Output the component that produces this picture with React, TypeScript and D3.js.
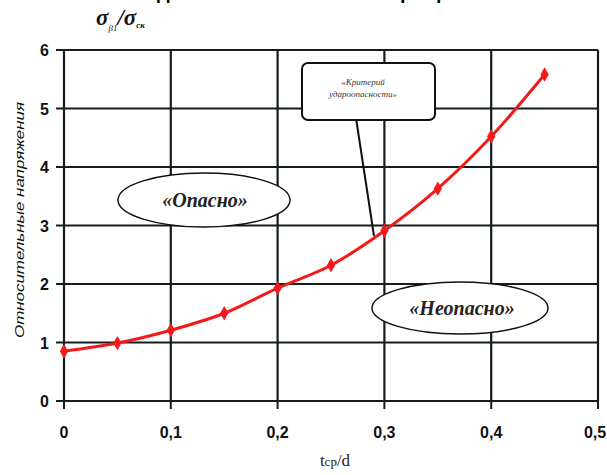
import React from "react";
import * as d3 from "d3";

const xValues = [0, 0.05, 0.1, 0.15, 0.2, 0.25, 0.3, 0.35, 0.4, 0.45];
const yValues = [0.85, 0.99, 1.21, 1.5, 1.93, 2.32, 2.91, 3.63, 4.52, 5.58];
const xTicks = [0, 0.1, 0.2, 0.3, 0.4, 0.5];
const xTickLabels = ["0", "0,1", "0,2", "0,3", "0,4", "0,5"];
const yTicks = [0, 1, 2, 3, 4, 5, 6];

const SERIF = "'Liberation Serif', 'Times New Roman', 'DejaVu Serif', serif";
const SANS = "'Liberation Sans', Arial, sans-serif";

export default function App() {
  const W = 607, H = 475;
  const x = d3.scaleLinear().domain([0, 0.5]).range([64, 598]);
  const y = d3.scaleLinear().domain([0, 6]).range([401, 50]);
  const line = d3.line<number>().x((_, i) => x(xValues[i])).y((d) => y(d)).curve(d3.curveMonotoneX);
  const diamond = d3.symbol().type(d3.symbolDiamond).size(60)();
  const grid = "#141c1c";
  return (
    <svg width={W} height={H} style={{ position: "absolute", left: 0, top: 0, background: "#fff" }}>
      {/* cut-off caption fragments */}
      <g fontFamily={SANS} fontWeight="bold" fontSize={20} fill="#000">
        <text x={157} y={-1}>д</text>
        <text x={400} y={-1}>р</text>
        <text x={430} y={-1}>ф</text>
      </g>
      {/* title */}
      <text x={96} y={25} fontFamily={SERIF} fontWeight="bold" fontStyle="italic" fontSize={23} fill="#111">
        σ<tspan fontSize={9} dy={6} fontWeight="normal">β1</tspan>
        <tspan dy={-6}>/σ</tspan>
        <tspan fontSize={9} dy={3} fontWeight="bold">ск</tspan>
      </text>
      {/* grid */}
      {yTicks.map((t) => (
        <line key={"gy" + t} x1={x(0)} x2={x(0.5)} y1={y(t)} y2={y(t)} stroke={grid} strokeWidth={2.2} />
      ))}
      {xTicks.map((t) => (
        <line key={"gx" + t} x1={x(t)} x2={x(t)} y1={y(0)} y2={y(6)} stroke={grid} strokeWidth={2.2} />
      ))}
      {yTicks.map((t) => (
        <line key={"ty" + t} x1={x(0) - 8} x2={x(0)} y1={y(t)} y2={y(t)} stroke={grid} strokeWidth={2} />
      ))}
      {xTicks.map((t) => (
        <line key={"tx" + t} x1={x(t)} x2={x(t)} y1={y(0)} y2={y(0) + 8} stroke={grid} strokeWidth={2} />
      ))}
      {/* tick labels */}
      <g fontFamily={SANS} fontWeight="bold" fontSize={16} fill="#111">
        {yTicks.map((t) => (
          <text key={"ly" + t} x={49} y={y(t) + 6} textAnchor="end">{t}</text>
        ))}
        {xTicks.map((t, i) => (
          <text key={"lx" + t} x={x(t) - (i === 5 ? 3 : 0)} y={438} textAnchor="middle">{xTickLabels[i]}</text>
        ))}
      </g>
      {/* axis titles */}
      <text transform="translate(24,220) rotate(-90)" textAnchor="middle" fontFamily={SANS}
        fontStyle="italic" fontSize={12} fill="#111" textLength={236} lengthAdjust="spacingAndGlyphs">
        Относительные напряжения
      </text>
      <text x={335} y={466} textAnchor="middle" fontFamily={SERIF} fontSize={17} fill="#222">
        t<tspan fontSize={13}>cp</tspan>/d
      </text>
      {/* leader line */}
      <line x1={356} y1={118} x2={374} y2={236} stroke="#111" strokeWidth={2} />
      {/* ellipses */}
      <ellipse cx={204} cy={200} rx={86} ry={27} fill="#fff" stroke="#111" strokeWidth={1.5} />
      <text x={205} y={207} textAnchor="middle" fontFamily={SERIF} fontWeight="bold" fontStyle="italic" fontSize={20} fill="#222">«Опасно»</text>
      <ellipse cx={460} cy={308} rx={88} ry={26} fill="#fff" stroke="#111" strokeWidth={1.5} />
      <text x={462} y={315} textAnchor="middle" fontFamily={SERIF} fontWeight="bold" fontStyle="italic" fontSize={20} fill="#222">«Неопасно»</text>
      {/* criterion box */}
      <rect x={302} y={63} width={133} height={57} rx={6} fill="#fff" stroke="#111" strokeWidth={2} />
      <g fontFamily={SERIF} fontStyle="italic" fontSize={9} fill="#333" textAnchor="middle">
        <text x={363} y={85}>«Критерий</text>
        <text x={363} y={97}>удароопасности»</text>
      </g>
      {/* curve */}
      <path d={line(yValues) || ""} fill="none" stroke="#f21a1a" strokeWidth={3} />
      {yValues.map((v, i) => (
        <path key={"m" + i} d={diamond || ""} transform={`translate(${x(xValues[i])},${y(v)})`} fill="#f21a1a" />
      ))}
    </svg>
  );
}
